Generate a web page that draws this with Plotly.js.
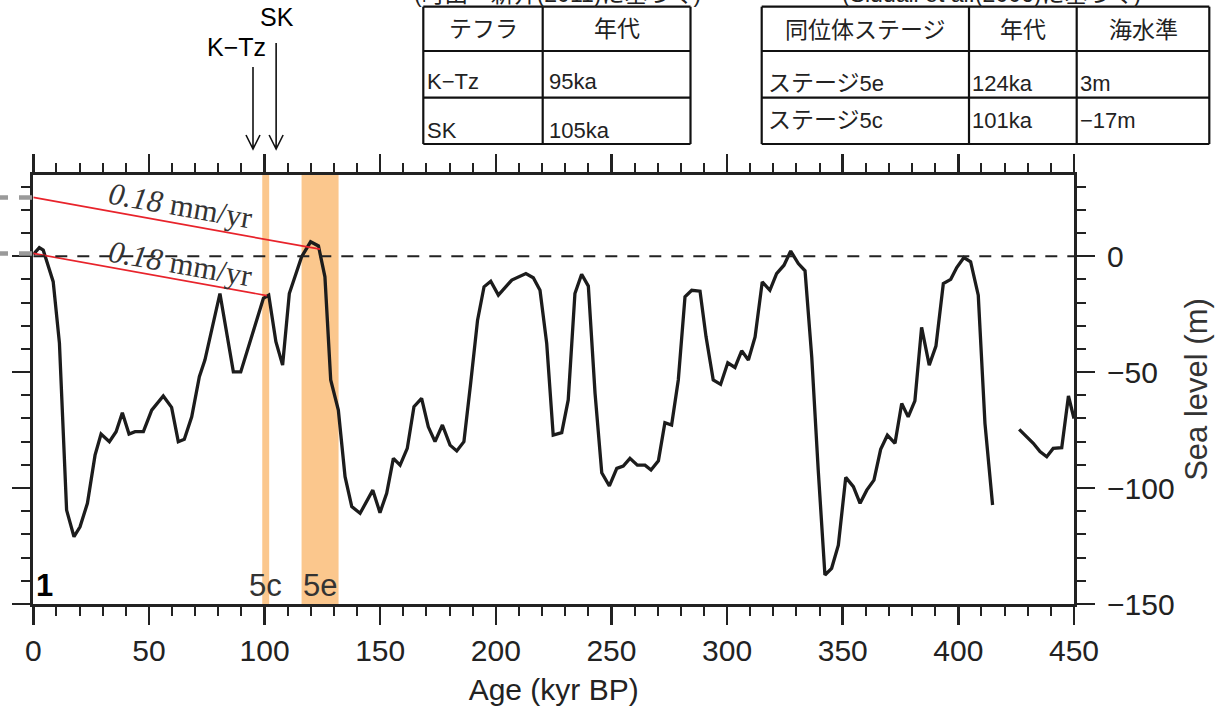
<!DOCTYPE html>
<html>
<head>
<meta charset="utf-8">
<script src="https://cdn.plot.ly/plotly-3.0.1.min.js"></script>
<style>html,body{margin:0;padding:0;background:#fff;}#chart{width:1232px;height:706px;}</style>
</head>
<body>
<div id="chart"></div>
<script>
// ---------------- data ----------------
const ageKyr = [0,2.6,4.3,8.6,11.3,14.4,17.6,20.2,23.4,26.7,29.3,32.9,35.8,38.5,41.4,44,47.6,51.2,56.2,59.8,
  62.7,65.3,68.5,71.8,74.2,80.7,86.5,89.7,99.5,101.8,104.9,107.8,110.7,116,119.9,123.3,126.1,128.6,131.9,134.8,
  137.7,141.3,146.8,149.9,152.8,155.7,158.6,161.7,164.6,167.9,170.8,173.7,176.9,180.2,183.1,186.2,189.1,192.1,194.9,197.8,
  201.1,206.9,213,216.2,219.1,222,224.8,228.5,231.3,234.2,237.1,240,242.9,245.8,249.1,252.3,255.1,258,261.2,264.5,
  267.1,270.3,273.1,276,278.9,281.8,284.7,288.3,290.9,294,297.2,300.3,303.4,306.3,309.2,312.1,315.2,318.5,321.4,324.6,
  327.5,330.8,333.7,336.6,339.4,342.3,345.2,348.1,351.3,354.6,357.5,360.4,363.5,366.4,369.3,372.6,375.5,378.3,381.2,384.1,
  387.4,390.3,393.5,396.7,399.3,402.4,405.3,408.6,411.5,414.8,420,426.3,432.4,435.3,438.2,441,444.7,447.6,450];
const seaLevelM = [0.7,3.7,2.6,-11,-37.5,-109.5,-121,-116.7,-106.6,-85.8,-76.7,-80,-75.7,-67.5,-76.7,-75.7,-75.7,-66.4,-60.3,-65.2,
  -80,-79,-69.3,-52,-44.8,-16.1,-49.9,-49.9,-18.2,-16.8,-36.9,-47,-16.1,-0.3,6.2,4.4,-8.9,-53.4,-66.4,-95.1,
  -108,-110.9,-100.9,-110.6,-102.3,-87.2,-90.1,-82.9,-64.9,-61.3,-73.6,-80,-72.8,-81.5,-84,-80,-54.9,-27.6,-13.2,-10.8,
  -16.8,-10.3,-7.5,-9.3,-14.7,-37.6,-77.2,-76.1,-62,-16.1,-7.8,-12.9,-59.2,-93.4,-99.1,-91.5,-90.5,-87.2,-90.1,-90.1,
  -92.2,-88.2,-71.8,-72.8,-53.4,-17.5,-14.7,-15.1,-34.8,-53.4,-55.3,-46,-48,-40.8,-44.8,-34.8,-11.1,-14.7,-7.5,-3.9,
  2.2,-3.2,-6.3,-43.4,-92.2,-137.5,-134.6,-124.6,-95.4,-99.4,-106.6,-100.9,-96.6,-83.3,-77.2,-80.7,-63.5,-69.3,-62.4,-30.7,
  -47,-38.8,-11.8,-10,-4.9,-0.6,-2.4,-16.8,-72.1,-107.3,null,-74.7,-80.7,-84.3,-86.5,-82.9,-82.6,-60.3,-70];

const upliftRateMmPerYr = [0.18];           // mm/yr = m/kyr
const tephraHeader = ['テフラ', '年代'];
const tephraNames = ['K−Tz', 'SK'];
const tephraAgesKa = [95, 105];
const stageHeader = ['同位体ステージ', '年代', '海水準'];
const stageNames = ['5e', '5c'];
const stageAgesKa = [124, 101];
const stageLevelsM = [3, -17];
const band5c = [99, 102];
const band5e = [116, 132];
const yTickVals = [0, -50, -100, -150];
const yTickText = ['0', '−50', '−100', '−150'];
const caption1 = '(町田・新井(2011)に基づく)';
const caption2 = '(Siddall et al.(2006)に基づく)';

// -------------- helpers (pixel -> paper) --------------
const W = 1232, H = 706;
const px = v => v / W;
const py = v => 1 - v / H;
const INK = '#222';
const SANS = 'Liberation Sans, Arial, Noto Sans CJK JP, sans-serif';

// -------------- traces --------------
const traces = [{
  x: ageKyr, y: seaLevelM, type: 'scatter', mode: 'lines', connectgaps: false,
  line: {color: '#1c1c1c', width: 3.3}, hoverinfo: 'x+y'
}];
// red uplift-rate lines: from each stage back to present
stageAgesKa.forEach((a, i) => {
  const r = upliftRateMmPerYr[0];
  traces.push({
    x: [0, a], y: [stageLevelsM[i] + r * a, stageLevelsM[i]],
    type: 'scatter', mode: 'lines', line: {color: '#e8232b', width: 1.7}, hoverinfo: 'skip'
  });
});

// -------------- shapes --------------
const shapes = [];
[band5c, band5e].forEach(b => shapes.push({
  type: 'rect', xref: 'x', yref: 'y domain', x0: b[0], x1: b[1], y0: 0, y1: 1,
  fillcolor: '#fbc78d', line: {width: 0}, layer: 'below'
}));
// zero sea level dashed line
shapes.push({type: 'line', xref: 'x', yref: 'y', x0: 0, x1: 450, y0: 0, y1: 0,
  line: {color: INK, width: 2, dash: '12px,10px'}, layer: 'above'});
// gray dashed leaders left of axis at the start of the red lines
stageAgesKa.forEach((a, i) => {
  const y0 = stageLevelsM[i] + upliftRateMmPerYr[0] * a;
  shapes.push({type: 'line', xref: 'paper', yref: 'y', x0: 0, x1: px(32), y0: y0, y1: y0,
    line: {color: '#9a9a9a', width: 4.5, dash: '8px,11px,13px,20px'}});
});
// tephra arrows
tephraAgesKa.forEach((a, i) => {
  const top = i === 0 ? 67 : 43, tip = 149, head = 135;
  shapes.push({type: 'path', xref: 'x', yref: 'paper', xsizemode: 'pixel', xanchor: a,
    path: `M0,${py(top)} L0,${py(tip)} M-7,${py(head)} L0,${py(tip)} L7,${py(head)}`,
    line: {color: '#111', width: 1.6}});
});
// tables
function table(x, y, lw) {
  const L = x[0], R = x[x.length - 1], T = y[0], B = y[y.length - 1];
  x.forEach(v => shapes.push({type: 'line', xref: 'paper', yref: 'paper', x0: px(v), x1: px(v), y0: py(T), y1: py(B), line: {color: '#111', width: lw}}));
  y.forEach(v => shapes.push({type: 'line', xref: 'paper', yref: 'paper', x0: px(L), x1: px(R), y0: py(v), y1: py(v), line: {color: '#111', width: lw}}));
}
table([423.3, 542.7, 690.5], [6.7, 51, 97.7, 144], 2.2);
table([761.7, 969, 1076.7, 1209.3], [6.7, 51, 97.7, 144], 2.2);

// -------------- annotations --------------
const ann = [];
function txt(t, x, y, size, opts) {
  ann.push(Object.assign({text: t, xref: 'paper', yref: 'paper', x: px(x), y: py(y), showarrow: false,
    xanchor: 'center', yanchor: 'middle', font: {family: SANS, size: size, color: INK}}, opts || {}));
}
// rate labels
stageAgesKa.forEach((a, i) => {
  txt('<i>' + upliftRateMmPerYr[0].toFixed(2) + '</i> mm/yr', 180, i === 0 ? 206 : 263, 31,
    {textangle: 10, font: {family: 'Liberation Serif, Times New Roman, serif', size: 31, color: '#333'}});
});
// band labels
txt('5c', 0, 585, 31, {xref: 'x', x: (band5c[0] + band5c[1]) / 2, font: {family: SANS, size: 31, color: '#333'}});
txt('5e', 0, 585, 31, {xref: 'x', x: (band5e[0] + band5e[1]) / 2, font: {family: SANS, size: 31, color: '#333'}});
txt('<b>1</b>', 44, 585, 31, {font: {family: SANS, size: 31, color: '#000'}});
// tephra labels
txt(tephraNames[0], 236, 47, 25, {font: {family: SANS, size: 25, color: '#000'}});
txt(tephraNames[1], 277, 17, 25, {font: {family: SANS, size: 25, color: '#000'}});
// captions (cut at top edge, as in the original figure)
txt(caption1, 557, -6, 23);
txt(caption2, 991, -6, 23);
// table 1
txt(tephraHeader[0], 483, 29, 23);
txt(tephraHeader[1], 616.6, 29, 23);
const rowY1 = [82, 130];
tephraNames.forEach((n, i) => {
  txt(n, 425, rowY1[i], 22, {xanchor: 'left'});
  txt(tephraAgesKa[i] + 'ka', 547, rowY1[i], 22, {xanchor: 'left'});
});
// table 2
txt(stageHeader[0], 865.3, 30, 23);
txt(stageHeader[1], 1022.8, 30, 23);
txt(stageHeader[2], 1143, 30, 23);
const rowY2 = [83, 120];
stageNames.forEach((n, i) => {
  txt('<span style="font-size:23px">ステージ</span>' + n, 766, rowY2[i], 22, {xanchor: 'left'});
  txt(stageAgesKa[i] + 'ka', 970, rowY2[i], 22, {xanchor: 'left'});
  txt(String(stageLevelsM[i]).replace('-', '−') + 'm', 1078, rowY2[i], 22, {xanchor: 'left'});
});

// -------------- layout --------------
const axisCommon = {
  ticks: 'outside', ticklen: 18, tickwidth: 2.5, tickcolor: INK,
  showline: true, linewidth: 3, linecolor: INK, mirror: 'ticks',
  showgrid: false, zeroline: false, automargin: false,
  tickfont: {family: SANS, size: 30, color: INK},
  minor: {ticks: 'outside', ticklen: 9, tickwidth: 2, tickcolor: INK, showgrid: false}
};
const layout = {
  width: W, height: H, margin: {l: 0, r: 0, t: 0, b: 0},
  paper_bgcolor: '#fff', plot_bgcolor: 'rgba(0,0,0,0)', showlegend: false,
  font: {family: SANS, color: INK},
  xaxis: Object.assign({}, axisCommon, {
    domain: [px(33.3), px(1074)], range: [0, 450], tickmode: 'linear', tick0: 0, dtick: 50,
    ticklabelstandoff: 0,
    minor: Object.assign({}, axisCommon.minor, {dtick: 10}),
    title: {text: 'Age (kyr BP)', font: {family: SANS, size: 30, color: INK}, standoff: 18}
  }),
  yaxis: Object.assign({}, axisCommon, {
    domain: [py(604), py(175)], range: [-150, 35], side: 'right',
    tickmode: 'array', tickvals: yTickVals, ticktext: yTickText,
    ticklabelstandoff: 6,
    minor: Object.assign({}, axisCommon.minor, {tickmode: 'linear', tick0: 0, dtick: 10}),
    title: {text: 'Sea level (m)', font: {family: SANS, size: 31, color: '#333'}, standoff: 12}
  }),
  shapes: shapes,
  annotations: ann
};
Plotly.newPlot('chart', traces, layout, {staticPlot: true, displayModeBar: false});
</script>
</body>
</html>
